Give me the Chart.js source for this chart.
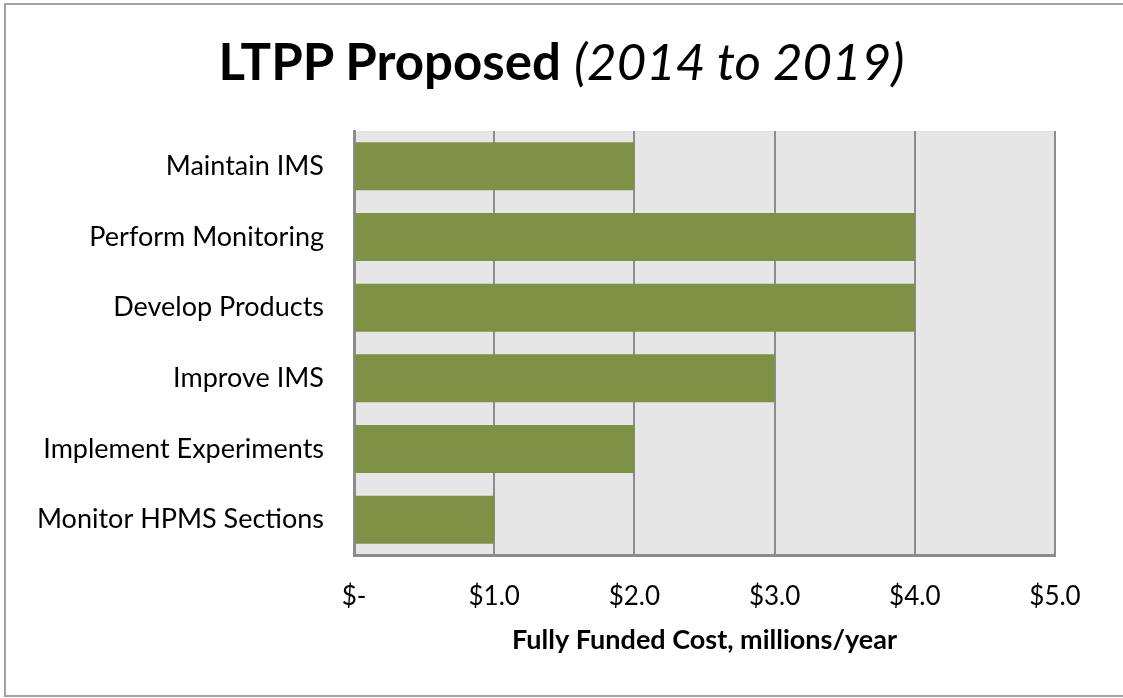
<!DOCTYPE html>
<html>
<head>
<meta charset="utf-8">
<script src="https://cdn.jsdelivr.net/npm/chart.js@4.4.1/dist/chart.umd.min.js"></script>
<style>
  html, body { margin: 0; padding: 0; background: #fff; overflow: hidden; }
  #wrap { position: relative; width: 1123px; height: 698px; overflow: hidden; }
  #frame {
    position: absolute; left: 4px; top: 3px; width: 1119px; height: 694px;
    box-sizing: border-box;
    border-top: 2px solid #a3a3a3; border-left: 2px solid #a3a3a3; border-bottom: 2px solid #a3a3a3;
  }
  #title {
    position: absolute; left: 0; top: 35px; width: 1123px; text-align: center;
    font-family: Lato, sans-serif; font-size: 51px; line-height: 51px; color: #000;
    margin: 0;
  }
  #title b { font-weight: 700; }
  #title i { font-weight: 400; font-style: italic; }
  canvas { position: absolute; left: 0; top: 0; }
</style>
</head>
<body>
<div id="wrap">
  <div id="frame"></div>
  <div id="title"><b>LTPP Proposed</b> <i>(2014 to 2019)</i></div>
  <canvas id="chart" width="1123" height="698"></canvas>
</div>
<script>
// Chart data
const categories = [
    'Maintain IMS',
    'Perform Monitoring',
    'Develop Products',
    'Improve IMS',
    'Implement Experiments',
    'Monitor HPMS Sections'
];
const costs = [2.0, 4.0, 4.0, 3.0, 2.0, 1.0];
const tickLabels = ['$-', '$1.0', '$2.0', '$3.0', '$4.0', '$5.0'];
const axisTitle = 'Fully Funded Cost, millions/year';

// Gray plot background
const plotBackground = {
    id: 'plotBackground',
    beforeDraw(chart) {
        const { ctx, chartArea: a } = chart;
        ctx.save();
        ctx.fillStyle = '#e6e6e6';
        ctx.fillRect(a.left, a.top, a.right - a.left, a.bottom - a.top);
        ctx.restore();
    }
};

const ctx = document.getElementById('chart').getContext('2d');
new Chart(ctx, {
    type: 'bar',
    data: {
        labels: categories,
        datasets: [{
            data: costs,
            backgroundColor: '#7f9145',
            borderWidth: 0,
            categoryPercentage: 1,
            barPercentage: 0.68
        }]
    },
    options: {
        indexAxis: 'y',
        responsive: false,
        animation: false,
        layout: { padding: { left: 0, right: 68, top: 131, bottom: 42 } },
        plugins: {
            legend: { display: false },
            tooltip: { enabled: false }
        },
        scales: {
            x: {
                min: 0,
                max: 5,
                ticks: {
                    stepSize: 1,
                    color: '#000',
                    padding: 26,
                    font: { family: 'Lato', size: 26 },
                    callback: (v, i) => tickLabels[i]
                },
                grid: { color: '#8c8c8c', lineWidth: 2, drawTicks: false },
                border: { display: true, color: '#8c8c8c', width: 3 },
                title: {
                    display: true,
                    text: axisTitle,
                    color: '#000',
                    padding: 0,
                    font: { family: 'Lato', size: 27, weight: 'bold' }
                },
                afterFit: s => { s.height = 101; }
            },
            y: {
                ticks: {
                    color: '#000',
                    padding: 30,
                    font: { family: 'Lato', size: 27 }
                },
                grid: { display: false, drawTicks: false },
                border: { display: true, color: '#8c8c8c', width: 3 },
                afterFit: s => { s.width = 354; }
            }
        }
    },
    plugins: [plotBackground]
});
</script>
</body>
</html>
